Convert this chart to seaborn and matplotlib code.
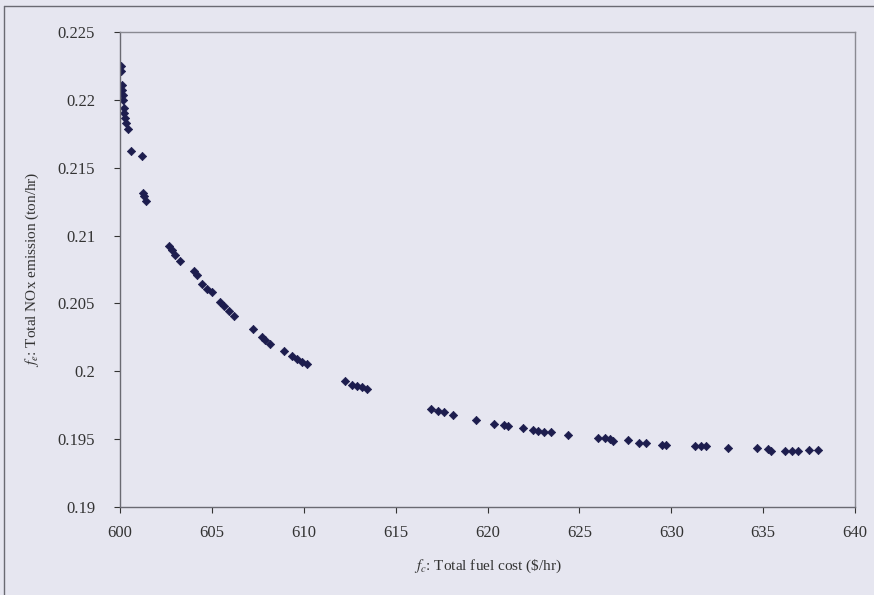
import numpy as np
import pandas as pd
import matplotlib
matplotlib.use("Agg")
import matplotlib.pyplot as plt
import seaborn as sns
from matplotlib.lines import Line2D

# Pareto front: total fuel cost ($/hr) vs total NOx emission (ton/hr)
fuel_cost = [600.05, 600.05, 600.09, 600.13, 600.18, 600.18, 600.22, 600.23, 600.27, 600.31,
             600.42, 600.58, 601.18, 601.24, 601.31, 601.40, 602.64, 602.82, 603.00, 603.27,
             604.00, 604.18, 604.46, 604.73, 605.00, 605.46, 605.64, 605.91, 606.18, 607.22,
             607.73, 607.91, 608.18, 608.91, 609.37, 609.64, 609.91, 610.19, 612.27, 612.64,
             612.91, 613.19, 613.42, 616.91, 617.28, 617.64, 618.10, 619.37, 620.33, 620.91,
             621.10, 621.91, 622.46, 622.73, 623.09, 623.46, 624.37, 626.01, 626.37, 626.64,
             626.83, 627.64, 628.22, 628.64, 629.50, 629.73, 631.28, 631.64, 631.91, 633.10,
             634.64, 635.28, 635.42, 636.19, 636.55, 636.88, 637.50, 638.01]
nox = [0.22252, 0.22215, 0.22113, 0.22076, 0.22039, 0.22002, 0.21941, 0.21904, 0.21868, 0.21831,
       0.21787, 0.21622, 0.21585, 0.21316, 0.21291, 0.21254, 0.20924, 0.20892, 0.20855, 0.20813,
       0.20740, 0.20708, 0.20642, 0.20610, 0.20581, 0.20507, 0.20482, 0.20446, 0.20409, 0.20311,
       0.20250, 0.20232, 0.20201, 0.20151, 0.20110, 0.20090, 0.20071, 0.20054, 0.19931, 0.19902,
       0.19894, 0.19882, 0.19870, 0.19723, 0.19710, 0.19699, 0.19679, 0.19644, 0.19612, 0.19607,
       0.19600, 0.19583, 0.19571, 0.19563, 0.19556, 0.19551, 0.19534, 0.19507, 0.19507, 0.19502,
       0.19490, 0.19497, 0.19471, 0.19471, 0.19458, 0.19458, 0.19453, 0.19446, 0.19446, 0.19436,
       0.19434, 0.19429, 0.19416, 0.19416, 0.19416, 0.19416, 0.19421, 0.19421]

x_ticks = [600, 605, 610, 615, 620, 625, 630, 635, 640]
y_ticks = [0.19, 0.195, 0.2, 0.205, 0.21, 0.215, 0.22, 0.225]
y_labels = ["0.19", "0.195", "0.2", "0.205", "0.21", "0.215", "0.22", "0.225"]

df = pd.DataFrame({"cost": fuel_cost, "nox": nox})

sns.set_style("white")
plt.rcParams["font.family"] = ["Liberation Serif", "DejaVu Serif"]
plt.rcParams["mathtext.fontset"] = "stix"

bg = "#e6e6f0"
fig = plt.figure(figsize=(8.74, 5.95), dpi=100, facecolor=bg)
ax = fig.add_axes([0.1373, 0.1479, 0.9783 - 0.1373, 0.9462 - 0.1479])
ax.set_facecolor(bg)

sns.scatterplot(data=df, x="cost", y="nox", ax=ax, marker="D", s=18,
                color="#1d1d4e", edgecolor="#1d1d4e", linewidth=0.5, legend=False)

ax.set_xlim(600, 640)
ax.set_ylim(0.19, 0.225)
ax.set_xticks(x_ticks)
ax.set_yticks(y_ticks)
ax.set_yticklabels(y_labels)
ax.tick_params(axis="both", labelsize=12, colors="#333333", length=4, width=0.8,
               direction="out", left=True, bottom=True)
ax.tick_params(axis="x", pad=9)
ax.tick_params(axis="y", pad=14)

for side in ["top", "right"]:
    ax.spines[side].set_color("#8a8a92")
    ax.spines[side].set_linewidth(1.0)
for side in ["left", "bottom"]:
    ax.spines[side].set_color("#6a6a72")
    ax.spines[side].set_linewidth(1.0)

ax.set_xlabel(r"$f_c$: Total fuel cost (\$/hr)", fontsize=11, color="#333333", labelpad=12)
ax.set_ylabel(r"$f_e$: Total NOx emission (ton/hr)", fontsize=11, color="#333333", labelpad=12)

# chart area border (left and top edges visible in the scan)
fig.add_artist(Line2D([0.005, 0.005], [0.0, 0.99], transform=fig.transFigure,
                      color="#6a6a72", linewidth=1.0))
fig.add_artist(Line2D([0.005, 1.0], [0.99, 0.99], transform=fig.transFigure,
                      color="#6a6a72", linewidth=1.0))

fig.savefig("out.png", dpi=100, facecolor=bg)
